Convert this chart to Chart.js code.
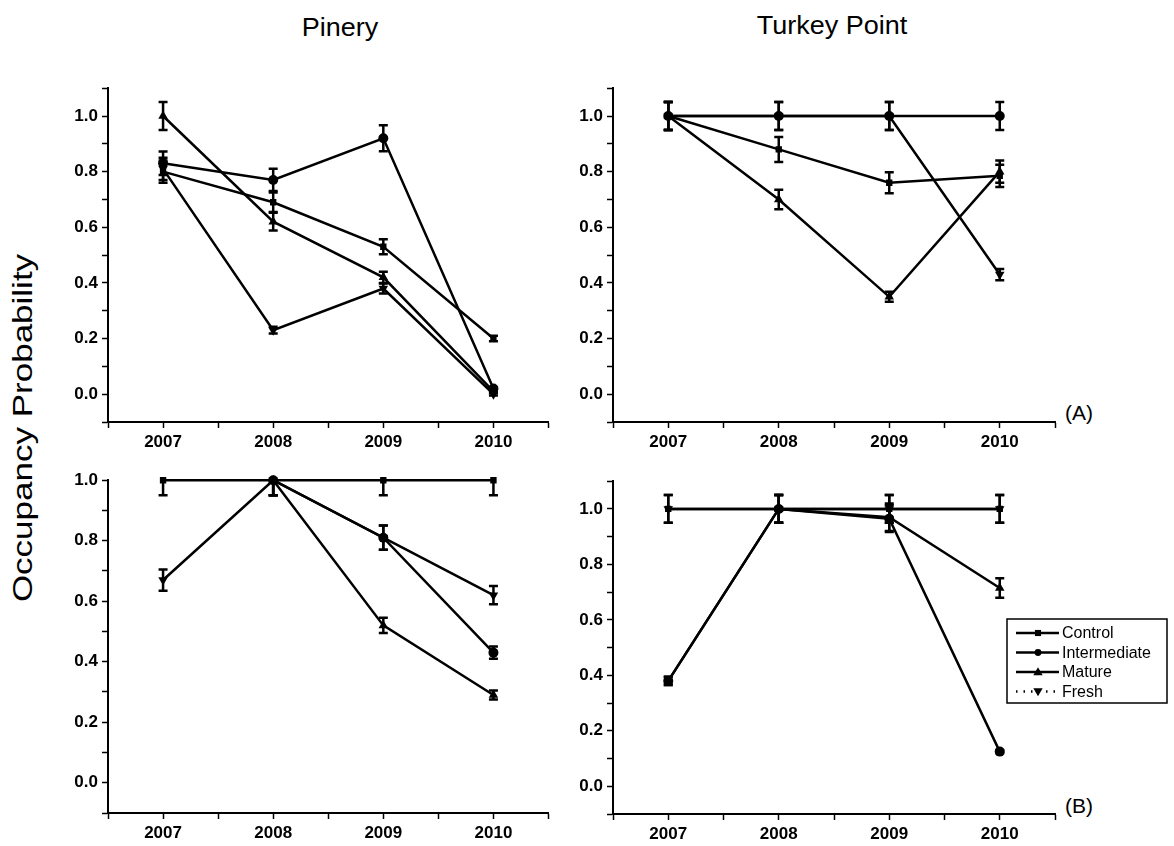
<!DOCTYPE html>
<html>
<head>
<meta charset="utf-8">
<script src="https://cdn.jsdelivr.net/npm/chart.js@4"></script>
<style>
  body { margin: 0; background: #fff; width: 1174px; height: 846px; position: relative; overflow: hidden; font-family: Arial, "Liberation Sans", sans-serif; }
  .panel { position: absolute; }
  .txt { position: absolute; color: #000; line-height: 1; white-space: nowrap; }
</style>
</head>
<body>
<div class="txt" style="left:340px;top:15px;font-size:25px;transform:translateX(-50%) scaleX(1.08);">Pinery</div>
<div class="txt" style="left:832px;top:13px;font-size:25px;transform:translateX(-50%) scaleX(1.08);">Turkey Point</div>
<div class="txt" style="left:23px;top:428px;font-size:28px;transform:translate(-50%,-50%) rotate(-90deg) scale(1.25,1);">Occupancy Probability</div>
<div class="txt" style="left:1065px;top:402px;font-size:21px;">(A)</div>
<div class="txt" style="left:1065px;top:795px;font-size:21px;">(B)</div>

<div class="panel" style="left:58px;top:74px;width:496px;height:378px;"><canvas id="pA"></canvas></div>
<div class="panel" style="left:563px;top:74px;width:611px;height:378px;"><canvas id="tA"></canvas></div>
<div class="panel" style="left:58px;top:466px;width:496px;height:377px;"><canvas id="pB"></canvas></div>
<div class="panel" style="left:563px;top:467px;width:611px;height:377px;"><canvas id="tB"></canvas></div>

<script>
const years = [2007, 2008, 2009, 2010];
const seriesNames = ["Control", "Intermediate", "Mature", "Fresh"];

// Pinery (A)
const pineryA_control = [0.80, 0.69, 0.53, 0.20];
const pineryA_intermediate = [0.83, 0.77, 0.92, 0.02];
const pineryA_mature = [1.00, 0.62, 0.42, 0.01];
const pineryA_fresh = [0.81, 0.23, 0.38, 0.00];
const pineryA_controlErr = [0.04, 0.035, 0.027, 0.01];
const pineryA_intermediateErr = [0.042, 0.04, 0.047, 0.005];
const pineryA_matureErr = [0.05, 0.032, 0.02, 0.005];
const pineryA_freshErr = [0.04, 0.012, 0.018, 0.005];

// Turkey Point (A)
const turkeyA_control = [1.00, 0.88, 0.76, 0.785];
const turkeyA_intermediate = [1.00, 1.00, 1.00, 1.00];
const turkeyA_mature = [1.00, 0.70, 0.35, 0.80];
const turkeyA_fresh = [1.00, 1.00, 1.00, 0.43];
const turkeyA_controlErr = [0.05, 0.045, 0.038, 0.04];
const turkeyA_intermediateErr = [0.05, 0.05, 0.05, 0.05];
const turkeyA_matureErr = [0.05, 0.035, 0.018, 0.04];
const turkeyA_freshErr = [0.05, 0.05, 0.05, 0.02];

// Pinery (B)
const pineryB_control = [1.00, 1.00, 1.00, 1.00];
const pineryB_intermediate = [null, 1.00, 0.81, 0.43];
const pineryB_mature = [null, 1.00, 0.52, 0.29];
const pineryB_fresh = [0.67, 1.00, 0.81, 0.62];
const pineryB_controlErr = [0.05, 0.05, 0.05, 0.05];
const pineryB_intermediateErr = [0, 0.05, 0.04, 0.02];
const pineryB_matureErr = [0, 0.05, 0.025, 0.015];
const pineryB_freshErr = [0.035, 0.05, 0.04, 0.03];

// Turkey Point (B)
const turkeyB_control = [1.00, 1.00, 1.00, 1.00];
const turkeyB_intermediate = [0.38, 1.00, 0.965, 0.125];
const turkeyB_mature = [0.38, 1.00, 0.97, 0.715];
const turkeyB_fresh = [1.00, 1.00, 1.00, 1.00];
const turkeyB_controlErr = [0.05, 0.05, 0.05, 0.05];
const turkeyB_intermediateErr = [0.015, 0.05, 0.048, 0.006];
const turkeyB_matureErr = [0.015, 0.05, 0.05, 0.035];
const turkeyB_freshErr = [0.05, 0.05, 0.05, 0.05];

const markers = [
  { pointStyle: "rect", rotation: 0, radius: 4.5 },
  { pointStyle: "circle", rotation: 0, radius: 5 },
  { pointStyle: "triangle", rotation: 0, radius: 5.5 },
  { pointStyle: "triangle", rotation: 180, radius: 5.5 }
];

// vertical error bars with caps, using the chart scales
const errorBars = {
  id: "errorBars",
  afterDatasetsDraw(chart) {
    const { ctx, chartArea: a, scales: { x, y } } = chart;
    ctx.save();
    ctx.beginPath();
    ctx.rect(a.left, a.top, a.right - a.left, a.bottom - a.top);
    ctx.clip();
    ctx.strokeStyle = "#000";
    ctx.lineWidth = 2.5;
    chart.data.datasets.forEach(ds => {
      ds.data.forEach((p, i) => {
        const e = ds.errors[i];
        if (p.y === null || !e) return;
        const px = x.getPixelForValue(p.x);
        const y1 = y.getPixelForValue(p.y + e);
        const y2 = y.getPixelForValue(p.y - e);
        ctx.beginPath();
        ctx.moveTo(px, y1); ctx.lineTo(px, y2);
        ctx.moveTo(px - 4.5, y1); ctx.lineTo(px + 4.5, y1);
        ctx.moveTo(px - 4.5, y2); ctx.lineTo(px + 4.5, y2);
        ctx.stroke();
      });
    });
    ctx.restore();
  }
};

function drawMarker(ctx, m, cx, cy) {
  const r = m.radius * 0.85;
  ctx.beginPath();
  if (m.pointStyle === "rect") {
    ctx.rect(cx - r * 0.8, cy - r * 0.8, 1.6 * r, 1.6 * r);
  } else if (m.pointStyle === "circle") {
    ctx.arc(cx, cy, r * 0.8, 0, Math.PI * 2);
  } else {
    const s = m.rotation ? -1 : 1;
    ctx.moveTo(cx, cy - s * r);
    ctx.lineTo(cx - r, cy + s * r * 0.7);
    ctx.lineTo(cx + r, cy + s * r * 0.7);
    ctx.closePath();
  }
  ctx.fill();
}

// boxed legend with line + marker samples
const boxLegend = {
  id: "boxLegend",
  afterDraw(chart) {
    const ctx = chart.ctx;
    const bx = 444, by = 152, bw = 160, bh = 84;
    ctx.save();
    ctx.strokeStyle = "#000";
    ctx.lineWidth = 1.5;
    ctx.strokeRect(bx, by, bw, bh);
    ctx.font = "16px Arial, 'Liberation Sans', sans-serif";
    ctx.textBaseline = "middle";
    ctx.fillStyle = "#000";
    seriesNames.forEach((name, i) => {
      const ry = by + 14 + i * 19.5;
      ctx.lineWidth = 2.5;
      if (name === "Fresh") ctx.setLineDash([1.5, 6]); else ctx.setLineDash([]);
      ctx.beginPath();
      ctx.moveTo(bx + 9, ry); ctx.lineTo(bx + 52, ry);
      ctx.stroke();
      ctx.setLineDash([]);
      drawMarker(ctx, markers[i], bx + 31, ry);
      ctx.fillText(name, bx + 55, ry + 1);
    });
    ctx.restore();
  }
};

function makeDatasets(valueSets, errSets) {
  return valueSets.map((vals, i) => ({
    label: seriesNames[i],
    data: years.map((yr, j) => ({ x: yr, y: vals[j] })),
    errors: errSets[i],
    borderColor: "#000",
    backgroundColor: "#000",
    borderWidth: 2.5,
    tension: 0,
    clip: 6,
    pointStyle: markers[i].pointStyle,
    rotation: markers[i].rotation,
    pointRadius: markers[i].radius,
    pointBorderWidth: 0,
    pointBackgroundColor: "#000"
  }));
}

function makeChart(id, valueSets, errSets, yMax, padRight, extraPlugins) {
  const tickFont = { family: "Arial, 'Liberation Sans', sans-serif", size: 17, weight: "bold" };
  return new Chart(document.getElementById(id), {
    type: "line",
    data: { datasets: makeDatasets(valueSets, errSets) },
    options: {
      responsive: true,
      maintainAspectRatio: false,
      animation: false,
      layout: { padding: { top: 4, right: padRight, left: 0, bottom: 0 } },
      plugins: { legend: { display: false }, tooltip: { enabled: false } },
      scales: {
        x: {
          type: "linear",
          min: 2006.5,
          max: 2010.5,
          border: { color: "#000", width: 2 },
          grid: { display: true, drawOnChartArea: false, drawTicks: true, tickLength: 6, tickColor: "#000", tickWidth: 1.5 },
          ticks: {
            stepSize: 0.5,
            color: "#000",
            font: tickFont,
            padding: 4,
            maxRotation: 0,
            autoSkip: false,
            callback: v => (Number.isInteger(v) ? String(v) : "")
          },
          afterFit: s => { s.height = 30; }
        },
        y: {
          type: "linear",
          min: -0.1,
          max: yMax,
          border: { color: "#000", width: 2 },
          grid: { display: true, drawOnChartArea: false, drawTicks: true, tickLength: 6, tickColor: "#000", tickWidth: 1.5 },
          ticks: {
            stepSize: 0.1,
            color: "#000",
            font: tickFont,
            padding: 4,
            autoSkip: false,
            callback: v => {
              const k = Math.round(v * 10);
              return (k >= 0 && k % 2 === 0) ? (k / 10).toFixed(1) : "";
            }
          },
          afterFit: s => { s.width = 50; }
        }
      }
    },
    plugins: [errorBars].concat(extraPlugins || [])
  });
}

makeChart("pA",
  [pineryA_control, pineryA_intermediate, pineryA_mature, pineryA_fresh],
  [pineryA_controlErr, pineryA_intermediateErr, pineryA_matureErr, pineryA_freshErr],
  1.1, 4);
makeChart("tA",
  [turkeyA_control, turkeyA_intermediate, turkeyA_mature, turkeyA_fresh],
  [turkeyA_controlErr, turkeyA_intermediateErr, turkeyA_matureErr, turkeyA_freshErr],
  1.1, 119);
makeChart("pB",
  [pineryB_control, pineryB_intermediate, pineryB_mature, pineryB_fresh],
  [pineryB_controlErr, pineryB_intermediateErr, pineryB_matureErr, pineryB_freshErr],
  1.0, 4);
makeChart("tB",
  [turkeyB_control, turkeyB_intermediate, turkeyB_mature, turkeyB_fresh],
  [turkeyB_controlErr, turkeyB_intermediateErr, turkeyB_matureErr, turkeyB_freshErr],
  1.1, 119, [boxLegend]);
</script>
</body>
</html>
